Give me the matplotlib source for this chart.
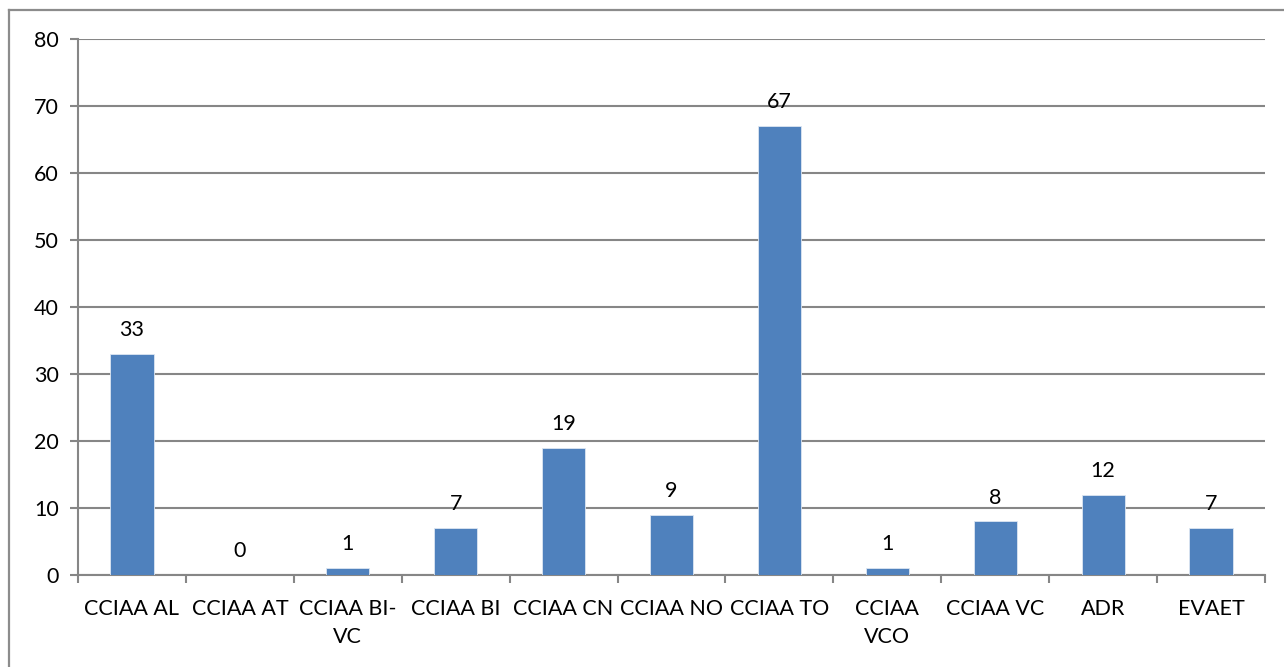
import matplotlib.pyplot as plt
from matplotlib.lines import Line2D

categories = ["CCIAA AL", "CCIAA AT", "CCIAA BI-\nVC", "CCIAA BI", "CCIAA CN",
              "CCIAA NO", "CCIAA TO", "CCIAA\nVCO", "CCIAA VC", "ADR", "EVAET"]
values = [33, 0, 1, 7, 19, 9, 67, 1, 8, 12, 7]
yticks = [0, 10, 20, 30, 40, 50, 60, 70, 80]

bar_color = "#4F81BD"
grid_color = "#868686"
fs = 15.5
plt.rcParams['font.family'] = ['Lato', 'DejaVu Sans']

W, H = 1284, 667
fig = plt.figure(figsize=(W / 100, H / 100), dpi=100)
# outer chart border (only top and left edges visible in the crop)
fig.lines.append(Line2D([9 / W, 9 / W], [-0.1, 1 - 10 / H], transform=fig.transFigure,
                        color="#8C8C8C", linewidth=1.6))
fig.lines.append(Line2D([9 / W, 1.1], [1 - 10 / H, 1 - 10 / H], transform=fig.transFigure,
                        color="#8C8C8C", linewidth=1.6))
ax = fig.add_axes([78 / W, 1 - 575 / H, 1187 / W, 536 / H])

x = list(range(len(categories)))
ax.bar(x, values, width=0.4, color=bar_color, edgecolor="#DCE6F2", linewidth=0.6, zorder=3)
for xi, v in zip(x, values):
    ax.annotate(str(v), (xi, v), xytext=(0, 10), textcoords="offset points",
                ha="center", va="bottom", fontsize=fs, color="black", zorder=4)

ax.set_xlim(-0.5, len(categories) - 0.5)
ax.set_ylim(0, 80)
ax.set_yticks(yticks)
ax.set_yticklabels([str(t) for t in yticks], fontsize=fs)
ax.yaxis.grid(True, color=grid_color, linewidth=1.5, zorder=0)
ax.tick_params(axis="y", length=6, width=1.5, color=grid_color, pad=8)

ax.set_xticks([i - 0.5 for i in range(len(categories) + 1)])
ax.set_xticklabels([])
ax.tick_params(axis="x", length=6, width=1.5, color=grid_color)
for xi, lab in zip(x, categories):
    ax.annotate(lab, (xi, 0), xytext=(0, -17), textcoords="offset points",
                ha="center", va="top", fontsize=fs, linespacing=1.55)

for s in ["top", "right"]:
    ax.spines[s].set_visible(False)
for s in ["left", "bottom"]:
    ax.spines[s].set_color(grid_color)
    ax.spines[s].set_linewidth(1.5)

fig.savefig("out.png", dpi=100)
